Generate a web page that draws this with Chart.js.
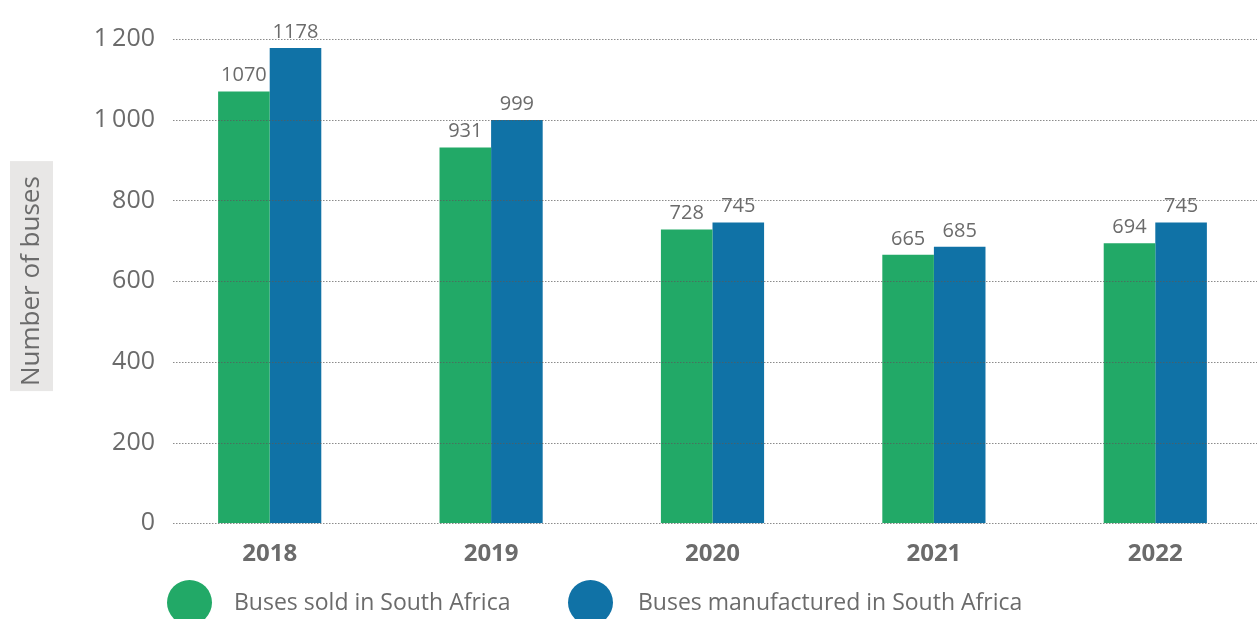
<!DOCTYPE html>
<html>
<head>
<meta charset="utf-8">
<script src="https://cdn.jsdelivr.net/npm/chart.js@4"></script>
<style>
  html, body { margin: 0; padding: 0; background: #fff; overflow: hidden; }
  #wrap { position: relative; width: 1270px; height: 619px; }
  #legend { position: absolute; left: 0; top: 580px; font-family: 'Open Sans', sans-serif; font-size: 23px; color: #6b6b6b; }
  .lg-item { position: absolute; top: 0; white-space: nowrap; }
  .lg-dot { position: absolute; top: 0; width: 45px; height: 45px; border-radius: 50%; }
  .lg-text { position: absolute; top: 5px; }
</style>
</head>
<body>
<div id="wrap">
  <canvas id="chart" width="1270" height="619"></canvas>
  <div id="legend"></div>
</div>
<script>
const years = ['2018', '2019', '2020', '2021', '2022'];
const busesSold = [1070, 931, 728, 665, 694];
const busesManufactured = [1178, 999, 745, 685, 745];
const yTicks = [0, 200, 400, 600, 800, 1000, 1200];

const COLORS = { green: '#22a967', blue: '#1072a6', text: '#6b6b6b', grid: 'rgba(90,90,90,0.7)', titleBg: '#e8e7e6' };
const FONT = "'Open Sans', sans-serif";

const fmtTick = v => v >= 1000 ? String(v).replace(/(\d)(\d{3})$/, '$1\u2009$2') : String(v);

// dotted grid lines drawn on top of the bars, starting a bit right of the plot edge
const gridOnTop = {
  id: 'gridOnTop',
  afterDatasetsDraw(chart) {
    const { ctx, chartArea, scales } = chart;
    ctx.save();
    ctx.strokeStyle = COLORS.grid;
    ctx.lineWidth = 1;
    ctx.setLineDash([1.5, 1.5]);
    yTicks.forEach(t => {
      const y = Math.round(scales.y.getPixelForValue(t)) + 0.5;
      ctx.beginPath();
      ctx.moveTo(chartArea.left + 14, y);
      ctx.lineTo(chart.width, y);
      ctx.stroke();
    });
    ctx.restore();
  }
};

// value labels above each bar
const barLabels = {
  id: 'barLabels',
  afterDatasetsDraw(chart) {
    const { ctx } = chart;
    ctx.save();
    ctx.font = `20px ${FONT}`;
    ctx.fillStyle = COLORS.text;
    ctx.textAlign = 'center';
    ctx.textBaseline = 'bottom';
    chart.data.datasets.forEach((ds, i) => {
      chart.getDatasetMeta(i).data.forEach((bar, j) => {
        ctx.fillText(String(ds.data[j]), bar.x, bar.y - 6);
      });
    });
    ctx.restore();
  }
};

// grey box behind the y axis title
const titleBox = {
  id: 'titleBox',
  beforeDraw(chart) {
    const { ctx, chartArea } = chart;
    const cy = (chartArea.top + chartArea.bottom) / 2 - 5;
    ctx.save();
    ctx.fillStyle = COLORS.titleBg;
    ctx.fillRect(10, cy - 115, 43, 230);
    ctx.restore();
  }
};

const chart = new Chart(document.getElementById('chart'), {
  type: 'bar',
  data: {
    labels: years,
    datasets: [
      { label: 'Buses sold in South Africa', data: busesSold, backgroundColor: COLORS.green },
      { label: 'Buses manufactured in South Africa', data: busesManufactured, backgroundColor: COLORS.blue },
    ]
  },
  options: {
    responsive: false,
    animation: false,
    categoryPercentage: 0.466,
    barPercentage: 1,
    layout: { padding: { top: 39, right: 4, bottom: 33, left: 0 } },
    plugins: { legend: { display: false }, tooltip: { enabled: false } },
    scales: {
      x: {
        grid: { display: false, drawTicks: false },
        border: { display: false },
        ticks: { color: COLORS.text, font: { family: FONT, size: 24, weight: 'bold' }, padding: 17 },
      },
      y: {
        min: 0, max: 1200,
        afterFit: s => { s.width = 159; },
        afterBuildTicks: s => { s.ticks = yTicks.map(v => ({ value: v })); },
        grid: { display: false, drawTicks: false },
        border: { display: false },
        ticks: { color: COLORS.text, font: { family: FONT, size: 25 }, padding: 4, callback: fmtTick },
        title: { display: true, text: 'Number of buses', color: COLORS.text, font: { family: FONT, size: 26 }, padding: { top: 16, bottom: 0 } },
      }
    }
  },
  plugins: [titleBox, gridOnTop, barLabels]
});

// html legend built from the datasets
const legendPos = [{ dot: 167, text: 234 }, { dot: 568, text: 638 }];
document.getElementById('legend').innerHTML = chart.data.datasets.map((ds, i) => `
  <div class="lg-item">
    <span class="lg-dot" style="left:${legendPos[i].dot}px;background:${ds.backgroundColor}"></span>
    <span class="lg-text" style="left:${legendPos[i].text}px">${ds.label}</span>
  </div>
`).join('');
</script>
</body>
</html>
